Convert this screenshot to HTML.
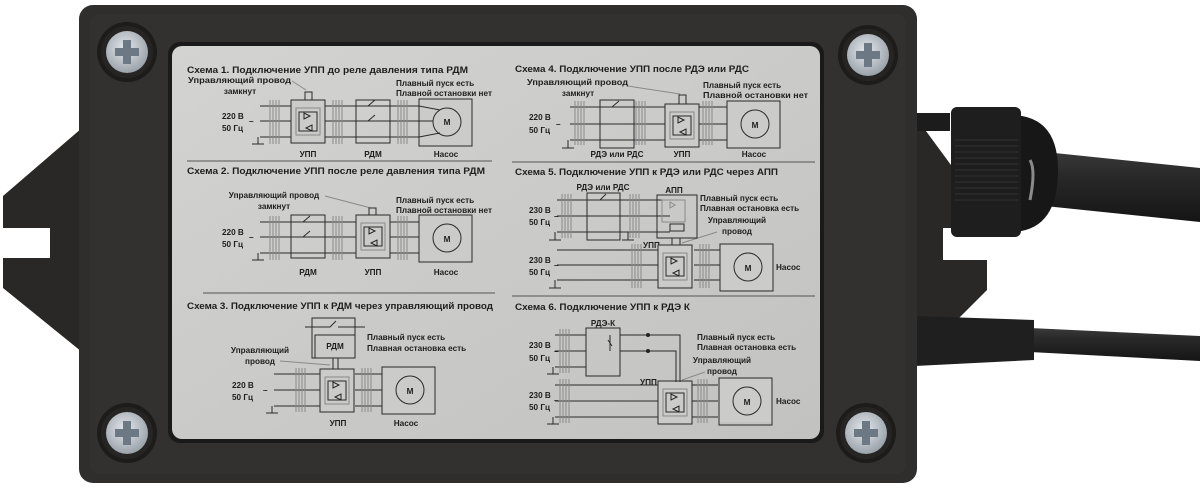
<!DOCTYPE html>
<html><head><meta charset="utf-8">
<style>
html,body{margin:0;padding:0;background:#fff;width:1200px;height:489px;overflow:hidden}
svg{display:block}
text{font-family:"Liberation Sans",sans-serif;font-weight:bold;fill:#1e1e1e}
.t{font-size:9.6px}
.s{font-size:8.2px}
.w{stroke:#2a2a2a;stroke-width:1;fill:none}
.g{stroke:#8a8a8a;stroke-width:1;fill:none}
</style></head><body>
<svg width="1200" height="489" viewBox="0 0 1200 489" xmlns="http://www.w3.org/2000/svg">
<defs>
<linearGradient id="lab" x1="0" y1="0" x2="1" y2="1">
<stop offset="0" stop-color="#d3d3d1"/><stop offset="1" stop-color="#c2c2c0"/></linearGradient>
<radialGradient id="scr" cx="0.45" cy="0.4" r="0.6">
<stop offset="0" stop-color="#e4e8ec"/><stop offset="1" stop-color="#9aa2aa"/></radialGradient>
<linearGradient id="cab" x1="0" y1="0" x2="0" y2="1">
<stop offset="0" stop-color="#3a3a3a"/><stop offset="0.3" stop-color="#2a2a2a"/><stop offset="1" stop-color="#151515"/></linearGradient>
<g id="screw">
<circle r="30" fill="#1d1c1b"/><circle r="26" fill="#262524"/>
<circle r="21" fill="url(#scr)"/>
<path d="M-4,-12 L4,-12 L4,-4 L12,-4 L12,4 L4,4 L4,12 L-4,12 L-4,4 L-12,4 L-12,-4 L-4,-4Z" fill="#6d7885"/>
</g>
<g id="upp">
<rect x="0" y="0" width="34" height="43" class="w"/>
<rect x="5" y="8" width="24" height="27" class="g"/>
<rect x="8" y="12" width="18" height="19" class="w"/>
<path d="M13,13 L13,19 L19,16Z M21,25 L21,31 L15,28Z" fill="none" stroke="#222"/>
</g>
<g id="pump">
<rect x="0" y="0" width="53" height="47" class="w"/>
<circle cx="28" cy="23" r="14" class="w"/>
</g>
<g id="lad">
<path d="M0,-6 V38 M3,-6 V38 M6,-6 V38 M9,-6 V38" class="g"/>
</g>
</defs>

<!-- flanges -->
<polygon points="82,128 3,196 3,228 50,228 50,258 3,258 3,288 82,352" fill="#2a2827"/>
<polygon points="912,112 987,214 987,228 943,228 943,260 987,260 987,290 912,365" fill="#2a2827"/>
<!-- lower cable -->
<polygon points="1030,328 1200,336 1200,361 1030,352" fill="url(#cab)"/>
<polygon points="915,316 1034,320 1034,360 915,366" fill="#1f1f1f"/>
<!-- upper cable -->
<polygon points="1045,152 1200,168 1200,222 1045,206" fill="url(#cab)"/>
<rect x="915" y="113" width="35" height="18" fill="#1c1c1c"/>
<path d="M1010,115 Q1058,115 1058,170 Q1058,232 1010,232Z" fill="#171717"/>
<path d="M1030,160 Q1036,170 1030,200" stroke="#8a8a8a" stroke-width="3" fill="none"/>
<rect x="951" y="107" width="70" height="130" rx="6" fill="#1e1e1e"/>
<g stroke="#333" stroke-width="1">
<path d="M955,140H1018M955,146H1018M955,152H1018M955,158H1018M955,164H1018M955,170H1018M955,176H1018M955,182H1018M955,188H1018M955,194H1018M955,200H1018"/>
</g>
<!-- body -->
<rect x="79" y="5" width="838" height="478" rx="14" fill="#302e2d"/>
<rect x="90" y="14" width="816" height="460" rx="10" fill="#33312f"/>
<use href="#screw" x="127" y="52"/>
<use href="#screw" x="868" y="55"/>
<use href="#screw" x="127" y="433"/>
<use href="#screw" x="866" y="433"/>

<!-- label -->
<rect x="168" y="42" width="656" height="401" rx="12" fill="#1b1a1a"/>
<rect x="172" y="46" width="648" height="393" rx="10" fill="url(#lab)"/>

<!-- ===== Scheme 1 ===== -->
<text x="187" y="73" class="t" textLength="281" lengthAdjust="spacingAndGlyphs">Схема 1. Подключение УПП до реле давления типа РДМ</text>
<text x="188" y="83" class="s" textLength="103" lengthAdjust="spacingAndGlyphs">Управляющий провод</text>
<text x="240" y="94" class="s" text-anchor="middle">замкнут</text>
<path d="M292,81 L306,90" class="g"/>
<text x="396" y="86" class="s">Плавный пуск есть</text>
<text x="396" y="96" class="s" textLength="96" lengthAdjust="spacingAndGlyphs">Плавной остановки нет</text>
<text x="222" y="119" class="s">220 В</text><text x="222" y="131" class="s">50 Гц</text>
<text x="249" y="124" class="s">–</text>
<path d="M260,106H434M260,121H433M260,137H434 M434,106 L440,110 M434,137 L440,133 M258,137 V144 M252,144H264" class="w"/>
<use href="#lad" x="270" y="106"/><use href="#lad" x="333" y="106"/><use href="#lad" x="398" y="106"/>
<rect x="291" y="100" width="34" height="43" fill="#cbcbc9"/><use href="#upp" x="291" y="100"/>
<rect x="305" y="92" width="7" height="8" class="w"/>
<rect x="356" y="100" width="34" height="43" fill="#cbcbc9" class="w"/>
<path d="M356,106H368 L375,100 M378,106H390 M356,121H368 L375,115 M378,121H390" class="w"/>
<rect x="419" y="99" width="53" height="47" fill="#cbcbc9"/><use href="#pump" x="419" y="99"/>
<path d="M419,106 L440,110 M419,137 L440,133 M419,121H433" class="w"/>
<text x="447" y="125" class="s" text-anchor="middle">М</text>
<text x="308" y="157" class="s" text-anchor="middle">УПП</text>
<text x="373" y="157" class="s" text-anchor="middle">РДМ</text>
<text x="446" y="157" class="s" text-anchor="middle">Насос</text>
<path d="M187,161H492" stroke="#555" stroke-width="1"/>

<!-- ===== Scheme 2 ===== -->
<text x="187" y="174" class="t" textLength="298" lengthAdjust="spacingAndGlyphs">Схема 2. Подключение УПП после реле давления типа РДМ</text>
<text x="274" y="198" class="s" text-anchor="middle">Управляющий провод</text>
<text x="274" y="209" class="s" text-anchor="middle">замкнут</text>
<path d="M325,196 L371,208" class="g"/>
<text x="396" y="203" class="s">Плавный пуск есть</text>
<text x="396" y="213" class="s" textLength="96" lengthAdjust="spacingAndGlyphs">Плавной остановки нет</text>
<text x="222" y="235" class="s">220 В</text><text x="222" y="247" class="s">50 Гц</text>
<text x="249" y="240" class="s">–</text>
<path d="M260,222H434M260,237H433M260,253H434 M258,253 V260 M252,260H264" class="w"/>
<use href="#lad" x="270" y="222"/><use href="#lad" x="333" y="222"/><use href="#lad" x="398" y="222"/>
<rect x="291" y="215" width="34" height="43" fill="#cbcbc9" class="w"/>
<path d="M291,222H303 L310,216 M313,222H325 M291,237H303 L310,231 M313,237H325" class="w"/>
<rect x="356" y="215" width="34" height="43" fill="#cbcbc9"/><use href="#upp" x="356" y="215"/>
<rect x="369" y="208" width="7" height="7" class="w"/>
<rect x="419" y="215" width="53" height="47" fill="#cbcbc9"/><use href="#pump" x="419" y="215"/>
<text x="447" y="242" class="s" text-anchor="middle">М</text>
<text x="308" y="275" class="s" text-anchor="middle">РДМ</text>
<text x="373" y="275" class="s" text-anchor="middle">УПП</text>
<text x="446" y="275" class="s" text-anchor="middle">Насос</text>
<path d="M203,293H495" stroke="#555" stroke-width="1"/>

<!-- ===== Scheme 3 ===== -->
<text x="187" y="309" class="t" textLength="306" lengthAdjust="spacingAndGlyphs">Схема 3. Подключение УПП к РДМ через управляющий провод</text>
<rect x="312" y="318" width="43" height="40" class="w"/>
<path d="M305,327H330 L336,321 M338,327H365" class="w"/>
<rect x="315" y="335" width="40" height="23" class="w"/>
<text x="335" y="349" class="s" text-anchor="middle">РДМ</text>
<path d="M333,358V369 M338,358V369" class="w"/>
<text x="367" y="340" class="s">Плавный пуск есть</text>
<text x="367" y="351" class="s">Плавная остановка есть</text>
<text x="260" y="353" class="s" text-anchor="middle">Управляющий</text>
<text x="260" y="364" class="s" text-anchor="middle">провод</text>
<path d="M280,361 L330,365" class="g"/>
<text x="232" y="388" class="s">220 В</text><text x="232" y="400" class="s">50 Гц</text>
<text x="263" y="393" class="s">–</text>
<path d="M274,374H400M274,390H395M274,406H400 M272,406V413 M266,413H278" class="w"/>
<use href="#lad" x="296" y="374"/><use href="#lad" x="362" y="374"/>
<rect x="320" y="369" width="35" height="43" fill="#cbcbc9"/><use href="#upp" x="320" y="369"/>
<rect x="382" y="367" width="54" height="48" fill="#cbcbc9"/><use href="#pump" x="382" y="367"/>
<text x="410" y="394" class="s" text-anchor="middle">М</text>
<text x="338" y="426" class="s" text-anchor="middle">УПП</text>
<text x="406" y="426" class="s" text-anchor="middle">Насос</text>

<!-- divider vertical hint -->
<!-- ===== Scheme 4 ===== -->
<text x="515" y="72" class="t" textLength="234" lengthAdjust="spacingAndGlyphs">Схема 4. Подключение УПП после РДЭ или РДС</text>
<text x="527" y="85" class="s" textLength="101" lengthAdjust="spacingAndGlyphs">Управляющий провод</text>
<text x="578" y="96" class="s" text-anchor="middle">замкнут</text>
<path d="M628,86 L680,94" class="g"/>
<text x="703" y="88" class="s">Плавный пуск есть</text>
<text x="703" y="98" class="s" textLength="105" lengthAdjust="spacingAndGlyphs">Плавной остановки нет</text>
<text x="529" y="120" class="s">220 В</text><text x="529" y="133" class="s">50 Гц</text>
<text x="556" y="127" class="s">–</text>
<path d="M570,107H742M570,124H742M570,140H742 M568,140V148 M562,148H574" class="w"/>
<use href="#lad" x="575" y="107"/><use href="#lad" x="636" y="107"/><use href="#lad" x="703" y="107"/>
<rect x="600" y="100" width="34" height="48" fill="#cbcbc9" class="w"/>
<path d="M600,107H612 L619,101 M622,107H634" class="w"/>
<rect x="665" y="104" width="34" height="43" fill="#cbcbc9"/><use href="#upp" x="665" y="104"/>
<rect x="679" y="95" width="7" height="9" class="w"/>
<rect x="727" y="101" width="53" height="47" fill="#cbcbc9"/><use href="#pump" x="727" y="101"/>
<text x="755" y="128" class="s" text-anchor="middle">М</text>
<text x="617" y="157" class="s" text-anchor="middle">РДЭ или РДС</text>
<text x="682" y="157" class="s" text-anchor="middle">УПП</text>
<text x="754" y="157" class="s" text-anchor="middle">Насос</text>
<path d="M512,162H815" stroke="#555" stroke-width="1"/>

<!-- ===== Scheme 5 ===== -->
<text x="515" y="175" class="t" textLength="263" lengthAdjust="spacingAndGlyphs">Схема 5. Подключение УПП к РДЭ или РДС через АПП</text>
<text x="603" y="190" class="s" text-anchor="middle">РДЭ или РДС</text>
<text x="674" y="193" class="s" text-anchor="middle">АПП</text>
<text x="700" y="201" class="s">Плавный пуск есть</text>
<text x="700" y="211" class="s">Плавная остановка есть</text>
<text x="737" y="223" class="s" text-anchor="middle">Управляющий</text>
<text x="737" y="234" class="s" text-anchor="middle">провод</text>
<path d="M717,232 L682,243" class="g"/>
<text x="529" y="213" class="s">230 В</text><text x="529" y="225" class="s">50 Гц</text>
<text x="554" y="219" class="s">–</text>
<path d="M557,200H670M557,216H670M557,232H670 M555,232V240 M549,240H561 M628,232V240 M622,240H634" class="w"/>
<use href="#lad" x="562" y="200"/><use href="#lad" x="630" y="200"/>
<rect x="587" y="193" width="33" height="47" fill="#cbcbc9" class="w"/>
<path d="M587,200H600 L606,194 M608,200H620" class="w"/>
<rect x="657" y="195" width="40" height="43" fill="#cbcbc9" class="w"/>
<path d="M662,200H685V222H662Z M670,202 L670,208 L675,205Z" class="g"/>
<rect x="670" y="224" width="14" height="7" class="w"/>
<path d="M672,238V245 M680,238V245" class="w"/>
<text x="643" y="248" class="s">УПП</text>
<text x="529" y="263" class="s">230 В</text><text x="529" y="275" class="s">50 Гц</text>
<text x="554" y="268" class="s">–</text>
<path d="M557,250H735M557,265H735M557,280H735 M555,280V288 M549,288H561" class="w"/>
<use href="#lad" x="632" y="250"/><use href="#lad" x="700" y="250"/>
<rect x="658" y="245" width="36" height="41" fill="#cbcbc9"/><use href="#upp" x="658" y="245" transform="translate(0,0)"/>
<rect x="720" y="244" width="53" height="46" fill="#cbcbc9"/><use href="#pump" x="720" y="244"/>
<text x="748" y="271" class="s" text-anchor="middle">М</text>
<text x="776" y="270" class="s">Насос</text>
<path d="M512,296H815" stroke="#555" stroke-width="1"/>

<!-- ===== Scheme 6 ===== -->
<text x="515" y="310" class="t" textLength="175" lengthAdjust="spacingAndGlyphs">Схема 6. Подключение УПП к РДЭ К</text>
<text x="603" y="326" class="s" text-anchor="middle">РДЭ-К</text>
<text x="697" y="340" class="s">Плавный пуск есть</text>
<text x="697" y="350" class="s">Плавная остановка есть</text>
<text x="722" y="363" class="s" text-anchor="middle">Управляющий</text>
<text x="722" y="374" class="s" text-anchor="middle">провод</text>
<path d="M705,372 L682,380" class="g"/>
<text x="529" y="348" class="s">230 В</text><text x="529" y="361" class="s">50 Гц</text>
<text x="554" y="354" class="s">–</text>
<path d="M555,335H586M555,351H586M555,367H586 M553,367V374 M547,374H559" class="w"/>
<use href="#lad" x="560" y="335"/>
<rect x="586" y="328" width="34" height="48" fill="#cbcbc9" class="w"/>
<path d="M620,335H650 M620,351H650 M610,335V351 M608,340 L612,346 M650,335H680V382 M650,351H676V382" class="w"/>
<circle cx="648" cy="335" r="2" fill="#222"/><circle cx="648" cy="351" r="2" fill="#222"/>
<text x="640" y="385" class="s">УПП</text>
<text x="529" y="398" class="s">230 В</text><text x="529" y="410" class="s">50 Гц</text>
<text x="554" y="403" class="s">–</text>
<path d="M555,385H735M555,401H735M555,417H735 M553,417V424 M547,424H559" class="w"/>
<use href="#lad" x="560" y="385"/><use href="#lad" x="698" y="385"/>
<rect x="658" y="382" width="34" height="41" fill="#cbcbc9"/><use href="#upp" x="658" y="381"/>
<rect x="718" y="379" width="55" height="43" fill="#cbcbc9"/><use href="#pump" x="719" y="378"/>
<text x="747" y="405" class="s" text-anchor="middle">М</text>
<text x="776" y="404" class="s">Насос</text>
</svg>
</body></html>
